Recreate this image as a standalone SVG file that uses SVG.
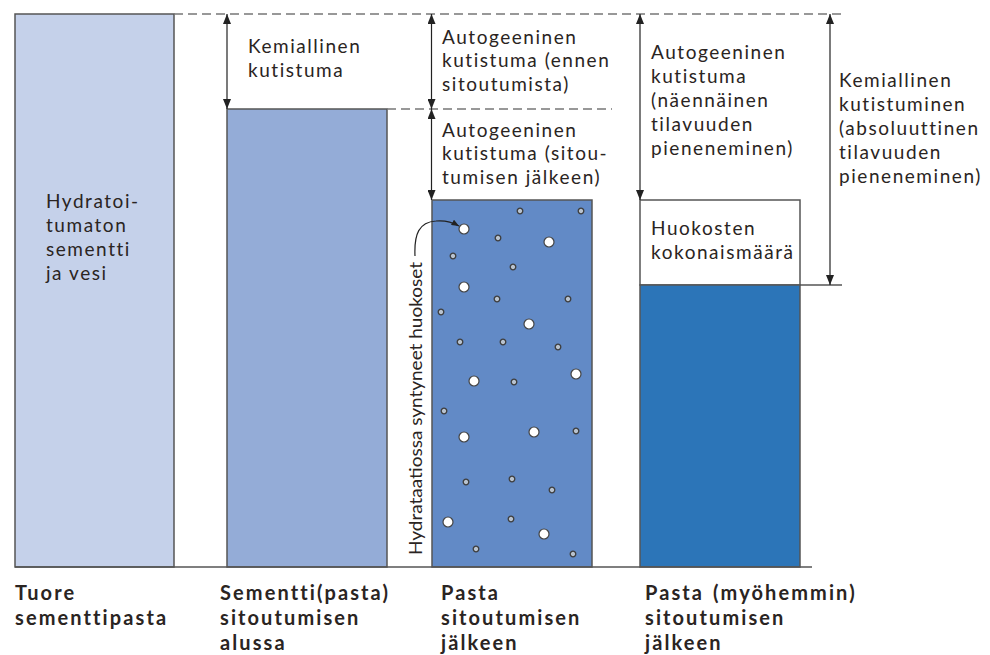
<svg xmlns="http://www.w3.org/2000/svg" xmlns:xlink="http://www.w3.org/1999/xlink" width="990" height="655" viewBox="0 0 990 655">
<style>
.col{stroke:#555;stroke-width:1.5}
.t{font-family:Lato,"Open Sans","Liberation Sans",sans-serif;font-size:19px;letter-spacing:1.55px;fill:#2a2422}
.b{font-family:Lato,"Open Sans","Liberation Sans",sans-serif;font-size:20px;font-weight:bold;letter-spacing:2.1px;fill:#2a2422}
.r{font-family:Lato,"Open Sans","Liberation Sans",sans-serif;font-size:18px;fill:#2a2422}
.arr{stroke:#222;stroke-width:1.2;fill:none;marker-start:url(#ah);marker-end:url(#ah)}
.dash{stroke:#777;stroke-width:1.5;stroke-dasharray:9 5;fill:none}
.ln{stroke:#555;stroke-width:1.5;fill:none}
.pb{fill:#fff;stroke:#444;stroke-width:1.2}
.ps{fill:#b9c3cf;stroke:#3d3d3d;stroke-width:1.3}
</style>
<defs>
<marker id="ah" viewBox="0 0 10 8" refX="10" refY="4" markerWidth="10" markerHeight="8" markerUnits="userSpaceOnUse" orient="auto-start-reverse">
<path d="M0,0 L10,4 L0,8 z" fill="#222"/>
</marker>
<marker id="ah2" viewBox="0 0 10 8" refX="10" refY="4" markerWidth="8" markerHeight="6" markerUnits="userSpaceOnUse" orient="auto">
<path d="M0,0 L10,4 L0,8 z" fill="#222"/>
</marker>
<circle id="big" r="5" class="pb"/>
<circle id="small" r="2.8" class="ps"/>
</defs>
<rect width="990" height="655" fill="#fff"/>

<g id="col1">
<rect class="col" x="15" y="14" width="159" height="553" fill="#c5d1ea"/>
<text class="t"><tspan x="46" y="208">Hydratoi-</tspan><tspan x="46" y="232">tumaton</tspan><tspan x="46" y="256">sementti</tspan><tspan x="46" y="280">ja vesi</tspan></text>
</g>

<g id="col2">
<rect class="col" x="227" y="109" width="160" height="458" fill="#94acd7"/>
</g>

<g id="col3">
<rect class="col" x="432" y="200" width="160" height="367" fill="#628ac6"/>
<use href="#small" x="520" y="211"/>
<use href="#small" x="581" y="211"/>
<use href="#big" x="464" y="229"/>
<use href="#small" x="498" y="238"/>
<use href="#big" x="549" y="242"/>
<use href="#small" x="453" y="256"/>
<use href="#small" x="513" y="267"/>
<use href="#big" x="464" y="287"/>
<use href="#small" x="497" y="299"/>
<use href="#small" x="568" y="299"/>
<use href="#small" x="441" y="312"/>
<use href="#big" x="529" y="324"/>
<use href="#small" x="460" y="342"/>
<use href="#small" x="503" y="342"/>
<use href="#small" x="558" y="347"/>
<use href="#big" x="576" y="374"/>
<use href="#big" x="474" y="381"/>
<use href="#small" x="514" y="382"/>
<use href="#small" x="444" y="411"/>
<use href="#small" x="576" y="431"/>
<use href="#big" x="534" y="432"/>
<use href="#big" x="464" y="437"/>
<use href="#small" x="512" y="479"/>
<use href="#small" x="466" y="482"/>
<use href="#small" x="552" y="490"/>
<use href="#small" x="511" y="519"/>
<use href="#big" x="448" y="522"/>
<use href="#big" x="544" y="534"/>
<use href="#small" x="476" y="549"/>
<use href="#small" x="573" y="554"/>
</g>

<g id="col4">
<rect class="col" x="640" y="200" width="160" height="85" fill="#fff"/>
<rect class="col" x="640" y="285" width="160" height="282" fill="#2c75b8"/>
<text class="t"><tspan x="651" y="235">Huokosten</tspan><tspan x="651" y="259">kokonaismäärä</tspan></text>
</g>

<g id="connectors">
<line class="ln" x1="15" y1="567" x2="812" y2="567"/>
<line class="dash" x1="174" y1="14" x2="846" y2="14"/>
<line class="dash" x1="387" y1="109" x2="612" y2="109"/>
<line class="ln" x1="800" y1="285" x2="842" y2="285"/>
<line class="arr" x1="227" y1="14" x2="227" y2="109"/>
<line class="arr" x1="431.5" y1="14" x2="431.5" y2="109"/>
<line class="arr" x1="431.5" y1="109" x2="431.5" y2="200"/>
<line class="arr" x1="640" y1="14" x2="640" y2="200"/>
<line class="arr" x1="830" y1="14" x2="830" y2="285"/>
<path d="M415,256 C414,234 419,222 436,221 C446,220 452,222 459,226" stroke="#222" stroke-width="1.2" fill="none" marker-end="url(#ah2)"/>
</g>

<g id="labels">
<text class="t"><tspan x="248" y="53">Kemiallinen</tspan><tspan x="248" y="77">kutistuma</tspan></text>
<text class="t"><tspan x="442" y="44">Autogeeninen</tspan><tspan x="442" y="67">kutistuma (ennen</tspan><tspan x="442" y="91">sitoutumista)</tspan></text>
<text class="t"><tspan x="442" y="137">Autogeeninen</tspan><tspan x="442" y="160">kutistuma (sitou-</tspan><tspan x="442" y="184">tumisen jälkeen)</tspan></text>
<text class="t"><tspan x="651" y="59">Autogeeninen</tspan><tspan x="651" y="83">kutistuma</tspan><tspan x="651" y="107">(näennäinen</tspan><tspan x="651" y="131">tilavuuden</tspan><tspan x="651" y="155">pieneneminen)</tspan></text>
<text class="t"><tspan x="839" y="87">Kemiallinen</tspan><tspan x="839" y="111">kutistuminen</tspan><tspan x="839" y="135">(absoluuttinen</tspan><tspan x="839" y="159">tilavuuden</tspan><tspan x="839" y="183">pieneneminen)</tspan></text>
<text class="r" transform="translate(422,555) rotate(-90)" textLength="293" lengthAdjust="spacingAndGlyphs">Hydrataatiossa syntyneet huokoset</text>
<text class="b"><tspan x="15" y="600">Tuore</tspan><tspan x="15" y="625">sementtipasta</tspan></text>
<text class="b"><tspan x="220" y="600">Sementti(pasta)</tspan><tspan x="220" y="625">sitoutumisen</tspan><tspan x="220" y="650">alussa</tspan></text>
<text class="b"><tspan x="441" y="600">Pasta</tspan><tspan x="441" y="625">sitoutumisen</tspan><tspan x="441" y="650">jälkeen</tspan></text>
<text class="b" word-spacing="2"><tspan x="645" y="600">Pasta (myöhemmin)</tspan><tspan x="645" y="625">sitoutumisen</tspan><tspan x="645" y="650">jälkeen</tspan></text>
</g>
</svg>
